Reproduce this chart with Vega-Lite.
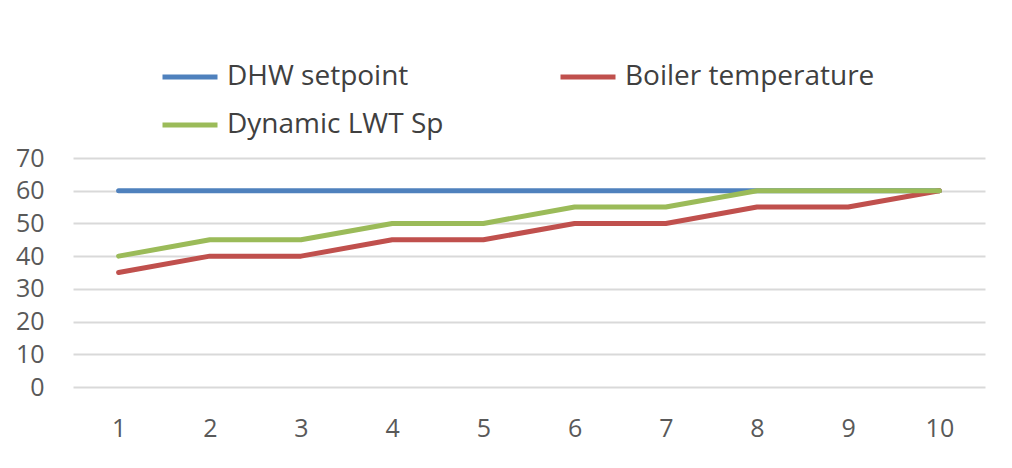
{
  "$schema": "https://vega.github.io/schema/vega-lite/v6.json",
  "width": 912,
  "height": 229,
  "padding": {"left": 73, "top": 158, "right": 27, "bottom": 81},
  "autosize": {"type": "none"},
  "background": "white",
  "config": {
    "view": {"stroke": null},
    "font": "Open Sans",
    "axis": {"labelFont": "Open Sans", "labelFontSize": 25, "labelColor": "#595959", "domain": false, "ticks": false, "gridColor": "#d9d9d9", "gridWidth": 2}
  },
  "data": {
    "values": [
      {"x": 1, "series": "DHW setpoint", "v": 60},
      {"x": 2, "series": "DHW setpoint", "v": 60},
      {"x": 3, "series": "DHW setpoint", "v": 60},
      {"x": 4, "series": "DHW setpoint", "v": 60},
      {"x": 5, "series": "DHW setpoint", "v": 60},
      {"x": 6, "series": "DHW setpoint", "v": 60},
      {"x": 7, "series": "DHW setpoint", "v": 60},
      {"x": 8, "series": "DHW setpoint", "v": 60},
      {"x": 9, "series": "DHW setpoint", "v": 60},
      {"x": 10, "series": "DHW setpoint", "v": 60},
      {"x": 1, "series": "Boiler temperature", "v": 35},
      {"x": 2, "series": "Boiler temperature", "v": 40},
      {"x": 3, "series": "Boiler temperature", "v": 40},
      {"x": 4, "series": "Boiler temperature", "v": 45},
      {"x": 5, "series": "Boiler temperature", "v": 45},
      {"x": 6, "series": "Boiler temperature", "v": 50},
      {"x": 7, "series": "Boiler temperature", "v": 50},
      {"x": 8, "series": "Boiler temperature", "v": 55},
      {"x": 9, "series": "Boiler temperature", "v": 55},
      {"x": 10, "series": "Boiler temperature", "v": 60},
      {"x": 1, "series": "Dynamic LWT Sp", "v": 40},
      {"x": 2, "series": "Dynamic LWT Sp", "v": 45},
      {"x": 3, "series": "Dynamic LWT Sp", "v": 45},
      {"x": 4, "series": "Dynamic LWT Sp", "v": 50},
      {"x": 5, "series": "Dynamic LWT Sp", "v": 50},
      {"x": 6, "series": "Dynamic LWT Sp", "v": 55},
      {"x": 7, "series": "Dynamic LWT Sp", "v": 55},
      {"x": 8, "series": "Dynamic LWT Sp", "v": 60},
      {"x": 9, "series": "Dynamic LWT Sp", "v": 60},
      {"x": 10, "series": "Dynamic LWT Sp", "v": 60}
    ]
  },
  "mark": {"type": "line", "strokeWidth": 5, "strokeCap": "round", "strokeJoin": "round"},
  "encoding": {
    "x": {"field": "x", "type": "ordinal", "scale": {"type": "point", "padding": 0.5}, "axis": {"title": null, "labelAngle": 0, "labelPadding": 29, "grid": false}},
    "y": {"field": "v", "type": "quantitative", "scale": {"domain": [0, 70], "nice": false}, "axis": {"title": null, "values": [0, 10, 20, 30, 40, 50, 60, 70], "labelPadding": 29}},
    "color": {
      "field": "series",
      "type": "nominal",
      "sort": ["DHW setpoint", "Dynamic LWT Sp", "Boiler temperature"],
      "scale": {"domain": ["DHW setpoint", "Dynamic LWT Sp", "Boiler temperature"], "range": ["#4f81bd", "#9bbb59", "#c0504d"]},
      "legend": {
        "title": null,
        "orient": "none",
        "legendX": 87,
        "legendY": -111,
        "columns": 2,
        "columnPadding": 106,
        "rowPadding": 4,
        "symbolType": "stroke",
        "symbolSize": 3025,
        "symbolStrokeWidth": 5,
        "labelFont": "Open Sans",
        "labelFontSize": 28,
        "labelColor": "#404040",
        "labelOffset": 7,
        "labelLimit": 400
      }
    }
  }
}
